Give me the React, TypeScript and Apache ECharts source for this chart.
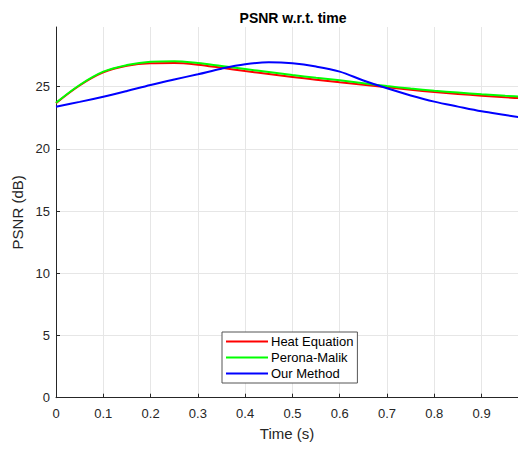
import React, { useEffect, useRef } from "react";
import * as echarts from "echarts";

const times = [0, 0.05, 0.1, 0.15, 0.2, 0.25, 0.3, 0.35, 0.4, 0.45, 0.5, 0.55, 0.6, 0.65, 0.7, 0.75, 0.8, 0.85, 0.9, 0.95, 1.0];
const heatEquation = [23.68, 25.1, 26.15, 26.68, 26.88, 26.9, 26.77, 26.52, 26.26, 26.02, 25.79, 25.56, 25.35, 25.15, 24.95, 24.75, 24.57, 24.42, 24.28, 24.15, 24.03];
const peronaMalik = [23.71, 25.14, 26.21, 26.74, 27.01, 27.05, 26.9, 26.66, 26.42, 26.18, 25.94, 25.72, 25.51, 25.28, 25.05, 24.85, 24.68, 24.53, 24.39, 24.27, 24.16];
const ourMethod = [23.39, 23.78, 24.2, 24.66, 25.14, 25.58, 26.0, 26.45, 26.8, 26.96, 26.88, 26.62, 26.21, 25.5, 24.87, 24.3, 23.8, 23.4, 23.02, 22.72, 22.42];
const seriesNames = ["Heat Equation", "Perona-Malik", "Our Method"];
const seriesColors = ["#ff0000", "#00ff00", "#0000ff"];

const FONT = "'Liberation Sans', Arial, Helvetica, sans-serif";
const AXIS_COLOR = "#262626";
const LINE_ICON = "path://M0,0 L42,0 L42,2 L0,2 Z";

export default function App() {
  const ref = useRef<HTMLDivElement>(null);
  useEffect(() => {
    if (!ref.current) return;
    const chart = echarts.init(ref.current, undefined, { renderer: "svg" });
    const allValues = [heatEquation, peronaMalik, ourMethod];
    chart.setOption({
      animation: false,
      backgroundColor: "#ffffff",
      title: {
        text: "PSNR w.r.t. time",
        left: 288,
        textAlign: "center",
        top: 6,
        textStyle: { fontFamily: FONT, fontSize: 14, fontWeight: "bold", color: "#000000" },
      },
      grid: { left: 56, top: 27, right: 0, bottom: 51.3, containLabel: false },
      legend: {
        orient: "vertical",
        left: 222,
        top: 332,
        padding: [3, 4, 3, 4],
        itemWidth: 42,
        itemHeight: 14,
        itemGap: 3,
        icon: LINE_ICON,
        backgroundColor: "#ffffff",
        borderColor: "#555555",
        borderWidth: 1,
        borderRadius: 0,
        textStyle: { fontFamily: FONT, fontSize: 13, color: "#000000", padding: [0, 0, 0, -2] },
        data: seriesNames,
      },
      xAxis: {
        type: "value",
        min: 0,
        max: 0.977,
        interval: 0.1,
        name: "Time (s)",
        nameLocation: "middle",
        nameGap: 28,
        nameTextStyle: { fontFamily: FONT, fontSize: 15, color: AXIS_COLOR },
        axisLine: { show: true, lineStyle: { color: AXIS_COLOR, width: 1 } },
        axisTick: { show: true, inside: true, length: 4, lineStyle: { color: AXIS_COLOR } },
        axisLabel: { fontFamily: FONT, fontSize: 13, color: AXIS_COLOR, margin: 9, showMaxLabel: false },
        splitLine: { show: true, showMinLine: false, showMaxLine: false, lineStyle: { color: "#e6e6e6", width: 1 } },
      },
      yAxis: {
        type: "value",
        min: 0,
        max: 29.8,
        interval: 5,
        name: "PSNR (dB)",
        nameLocation: "middle",
        nameGap: 29,
        nameTextStyle: { fontFamily: FONT, fontSize: 15, color: AXIS_COLOR },
        axisLine: { show: true, lineStyle: { color: AXIS_COLOR, width: 1 } },
        axisTick: { show: true, inside: true, length: 4, lineStyle: { color: AXIS_COLOR } },
        axisLabel: { fontFamily: FONT, fontSize: 13, color: AXIS_COLOR, margin: 6, showMaxLabel: false },
        splitLine: { show: true, showMinLine: false, showMaxLine: false, lineStyle: { color: "#e6e6e6", width: 1 } },
      },
      series: seriesNames.map((name, i) => ({
        name,
        type: "line",
        smooth: 0.35,
        symbol: "none",
        clip: true,
        color: seriesColors[i],
        itemStyle: { color: seriesColors[i] },
        lineStyle: { color: seriesColors[i], width: 2 },
        data: times.map((t, j) => [t, allValues[i][j]]),
      })),
    });
    return () => chart.dispose();
  }, []);
  return (
    <div
      ref={ref}
      style={{ position: "fixed", left: 0, top: 0, width: 518, height: 449 }}
    />
  );
}
